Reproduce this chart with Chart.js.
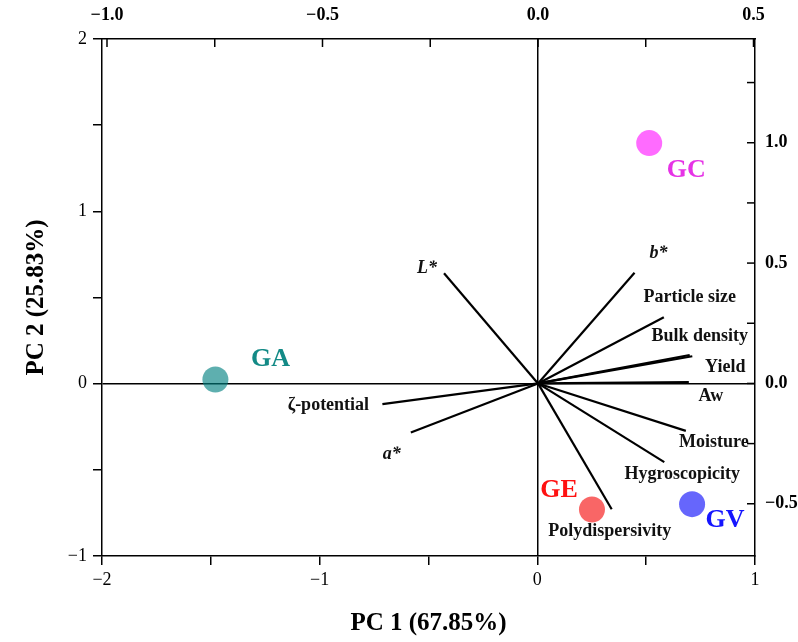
<!DOCTYPE html>
<html>
<head>
<meta charset="utf-8">
<script src="https://cdn.jsdelivr.net/npm/chart.js@4.4.1/dist/chart.umd.min.js"></script>
<style>
  body { margin: 0; background: #fff; }
  #wrap { width: 798px; height: 642px; }
</style>
</head>
<body>
<div id="wrap"><canvas id="biplot"></canvas></div>
<script>
// scores (bottom / left axes)
const samples = ['GA', 'GC', 'GE', 'GV'];
const pc1Scores = [-1.479, 0.514, 0.251, 0.711];
const pc2Scores = [0.024, 1.396, -0.730, -0.699];

// loadings (top / right axes)
const variables = ['L*', 'b*', 'Particle size', 'Bulk density', 'Yield', 'Aw',
  'Moisture', 'Hygroscopicity', 'Polydispersivity', 'ζ-potential', 'a*'];
const pc1Loadings = [-0.218, 0.224, 0.292, 0.352, 0.358, 0.350, 0.343, 0.293, 0.171, -0.361, -0.295];
const pc2Loadings = [0.458, 0.460, 0.275, 0.118, 0.113, 0.006, -0.197, -0.327, -0.523, -0.086, -0.204];

// labelled tick values
const bottomTicks = [-2, -1, 0, 1];
const leftTicks = [-1, 0, 1, 2];
const topTicks = [-1, -0.5, 0, 0.5];
const rightTicks = [-0.5, 0, 0.5, 1];

const sampleText = ['#138a86', '#e633e6', '#ff1111', '#1515ff'];
const sampleFill = ['rgba(0,128,128,0.63)', 'rgba(255,0,255,0.58)', 'rgba(245,0,0,0.6)', 'rgba(0,0,250,0.6)'];

// label placement, pixels from the mark
const sampleLabelOffset = { GA: [55, -20], GC: [37, 27], GE: [-33, -19], GV: [33, 16] };
const varLabelOffset = {
  'L*': [-17, -5], 'b*': [24, -19], 'Particle size': [26, -20], 'Bulk density': [10, -19],
  'Yield': [33, 11], 'Aw': [22, 14], 'Moisture': [28, 12], 'Hygroscopicity': [18, 12],
  'Polydispersivity': [-2, 22], 'ζ-potential': [-54, 1], 'a*': [-19, 22]
};
const italicVars = ['L*', 'b*', 'a*'];

const fmt = (v, d) => (v < -1e-9 ? '\u2212' : '') + Math.abs(v).toFixed(d);
const isIn = (list, v) => list.some(t => Math.abs(t - v) < 1e-6);

Chart.defaults.font.family = '"Liberation Serif", "DejaVu Serif", serif';
Chart.defaults.color = '#000';

const datasets = [];
samples.forEach((s, i) => {
  datasets.push({
    label: s,
    data: [{ x: pc1Scores[i], y: pc2Scores[i] }],
    xAxisID: 'x', yAxisID: 'y',
    pointRadius: 13, pointHoverRadius: 13,
    backgroundColor: sampleFill[i], borderWidth: 0
  });
});
variables.forEach((v, i) => {
  datasets.push({
    label: v,
    data: [{ x: 0, y: 0 }, { x: pc1Loadings[i], y: pc2Loadings[i] }],
    xAxisID: 'x2', yAxisID: 'y2',
    showLine: true, pointRadius: 0, borderColor: '#000', borderWidth: 2.2
  });
});

const zeroGrid = ctx => (ctx.tick && Math.abs(ctx.tick.value) < 1e-9) ? '#000' : 'rgba(0,0,0,0)';

const labelsPlugin = {
  id: 'biplotExtras',
  beforeDraw(chart) {
    const c = chart.ctx;
    c.save();
    c.fillStyle = '#fff';
    c.fillRect(0, 0, chart.width, chart.height);
    c.restore();
  },
  afterDatasetsDraw(chart) {
    const c = chart.ctx;
    const { x, y, x2, y2 } = chart.scales;
    const area = chart.chartArea;
    c.save();
    // inward ticks on top and right
    c.strokeStyle = '#000';
    c.lineWidth = 1.5;
    x2.ticks.forEach(t => {
      const px = x2.getPixelForValue(t.value);
      c.beginPath(); c.moveTo(px, area.top); c.lineTo(px, area.top + 8); c.stroke();
    });
    y2.ticks.forEach(t => {
      const py = y2.getPixelForValue(t.value);
      c.beginPath(); c.moveTo(area.right, py); c.lineTo(area.right - 8, py); c.stroke();
    });
    c.textAlign = 'center';
    c.textBaseline = 'middle';
    // variable labels
    variables.forEach((v, i) => {
      const px = x2.getPixelForValue(pc1Loadings[i]);
      const py = y2.getPixelForValue(pc2Loadings[i]);
      const o = varLabelOffset[v];
      c.font = (italicVars.includes(v) ? 'italic bold 18px ' : 'bold 18px ') + Chart.defaults.font.family;
      c.fillStyle = '#111';
      c.fillText(v, px + o[0], py + o[1]);
    });
    // sample labels
    samples.forEach((s, i) => {
      const px = x.getPixelForValue(pc1Scores[i]);
      const py = y.getPixelForValue(pc2Scores[i]);
      const o = sampleLabelOffset[s];
      c.font = 'bold 26px ' + Chart.defaults.font.family;
      c.fillStyle = sampleText[i];
      c.fillText(s, px + o[0], py + o[1]);
    });
    c.restore();
  }
};

new Chart(document.getElementById('biplot'), {
  type: 'scatter',
  data: { datasets },
  options: {
    responsive: true,
    maintainAspectRatio: false,
    animation: false,
    layout: { padding: 0 },
    plugins: { legend: { display: false }, tooltip: { enabled: false } },
    scales: {
      x: {
        position: 'bottom', min: -2, max: 1,
        afterFit: s => { s.height = 86; },
        ticks: { stepSize: 0.5, autoSkip: false, maxRotation: 0, padding: 4,
          font: { size: 18 },
          callback: v => isIn(bottomTicks, v) ? fmt(v, 0) : '' },
        grid: { color: zeroGrid, lineWidth: 1.5, tickColor: '#000', tickLength: 9, tickWidth: 1.5 },
        border: { display: true, color: '#000', width: 1.5 },
        title: { display: true, text: 'PC 1 (67.85%)', font: { size: 25, weight: 'bold' }, padding: { top: 0, bottom: 3 } }
      },
      y: {
        position: 'left', min: -1, max: 2,
        afterFit: s => { s.width = 102; },
        ticks: { stepSize: 0.5, autoSkip: false, padding: 6,
          font: { size: 18 },
          callback: v => isIn(leftTicks, v) ? fmt(v, 0) : '' },
        grid: { color: zeroGrid, lineWidth: 1.5, tickColor: '#000', tickLength: 9, tickWidth: 1.5 },
        border: { display: true, color: '#000', width: 1.5 },
        title: { display: true, text: 'PC 2 (25.83%)', font: { size: 25, weight: 'bold' }, padding: { top: 22, bottom: 0 } }
      },
      x2: {
        position: 'top', min: -1.0116, max: 0.5035,
        afterFit: s => { s.height = 39; },
        ticks: { stepSize: 0.25, autoSkip: false, includeBounds: false, maxRotation: 0, padding: 13,
          font: { size: 18, weight: 'bold' },
          callback: v => isIn(topTicks, v) ? fmt(v, 1) : '' },
        grid: { display: false, drawTicks: false },
        border: { display: true, color: '#000', width: 1.5 }
      },
      y2: {
        position: 'right', min: -0.717, max: 1.431,
        afterFit: s => { s.width = 43; },
        ticks: { stepSize: 0.25, autoSkip: false, includeBounds: false, padding: 10,
          font: { size: 18, weight: 'bold' },
          callback: v => isIn(rightTicks, v) ? fmt(v, 1) : '' },
        grid: { display: false, drawTicks: false },
        border: { display: true, color: '#000', width: 1.5 }
      }
    }
  },
  plugins: [labelsPlugin]
});
</script>
</body>
</html>
